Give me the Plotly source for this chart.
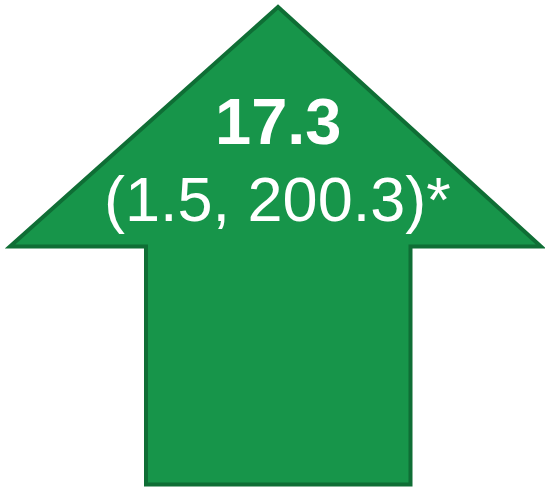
import plotly.graph_objects as go

estimate = 17.3
ci_low = 1.5
ci_high = 200.3
marker = "*"

W, H = 545, 487
fill_color = "#17954A"
edge_color = "#0F6E35"

fig = go.Figure()

# arrow outline in pixel space (y axis reversed)
arrow = "M 278 7 L 10 246.5 L 146 246.5 L 146 484.5 L 410.5 484.5 L 410.5 246.5 L 541 246.5 Z"
fig.add_shape(type="path", path=arrow, xref="x", yref="y",
              fillcolor=fill_color, line=dict(color=edge_color, width=4))

fig.add_annotation(x=278, y=121, xref="x", yref="y", text=f"<b>{estimate}</b>",
                   showarrow=False, xanchor="center", yanchor="middle",
                   font=dict(family="Liberation Sans, Arial", size=65, color="white"))
fig.add_annotation(x=277, y=199, xref="x", yref="y",
                   text=f"({ci_low}, {ci_high}){marker}",
                   showarrow=False, xanchor="center", yanchor="middle",
                   font=dict(family="Liberation Sans, Arial", size=63, color="white"))

fig.update_layout(
    width=W, height=H,
    margin=dict(l=0, r=0, t=0, b=0),
    paper_bgcolor="white", plot_bgcolor="white",
    xaxis=dict(range=[0, W], visible=False, fixedrange=True),
    yaxis=dict(range=[H, 0], visible=False, fixedrange=True),
    showlegend=False,
)

fig.write_html("out.html", config={"displayModeBar": False},
               post_script="document.body.style.margin='0';document.body.style.overflow='hidden';")
